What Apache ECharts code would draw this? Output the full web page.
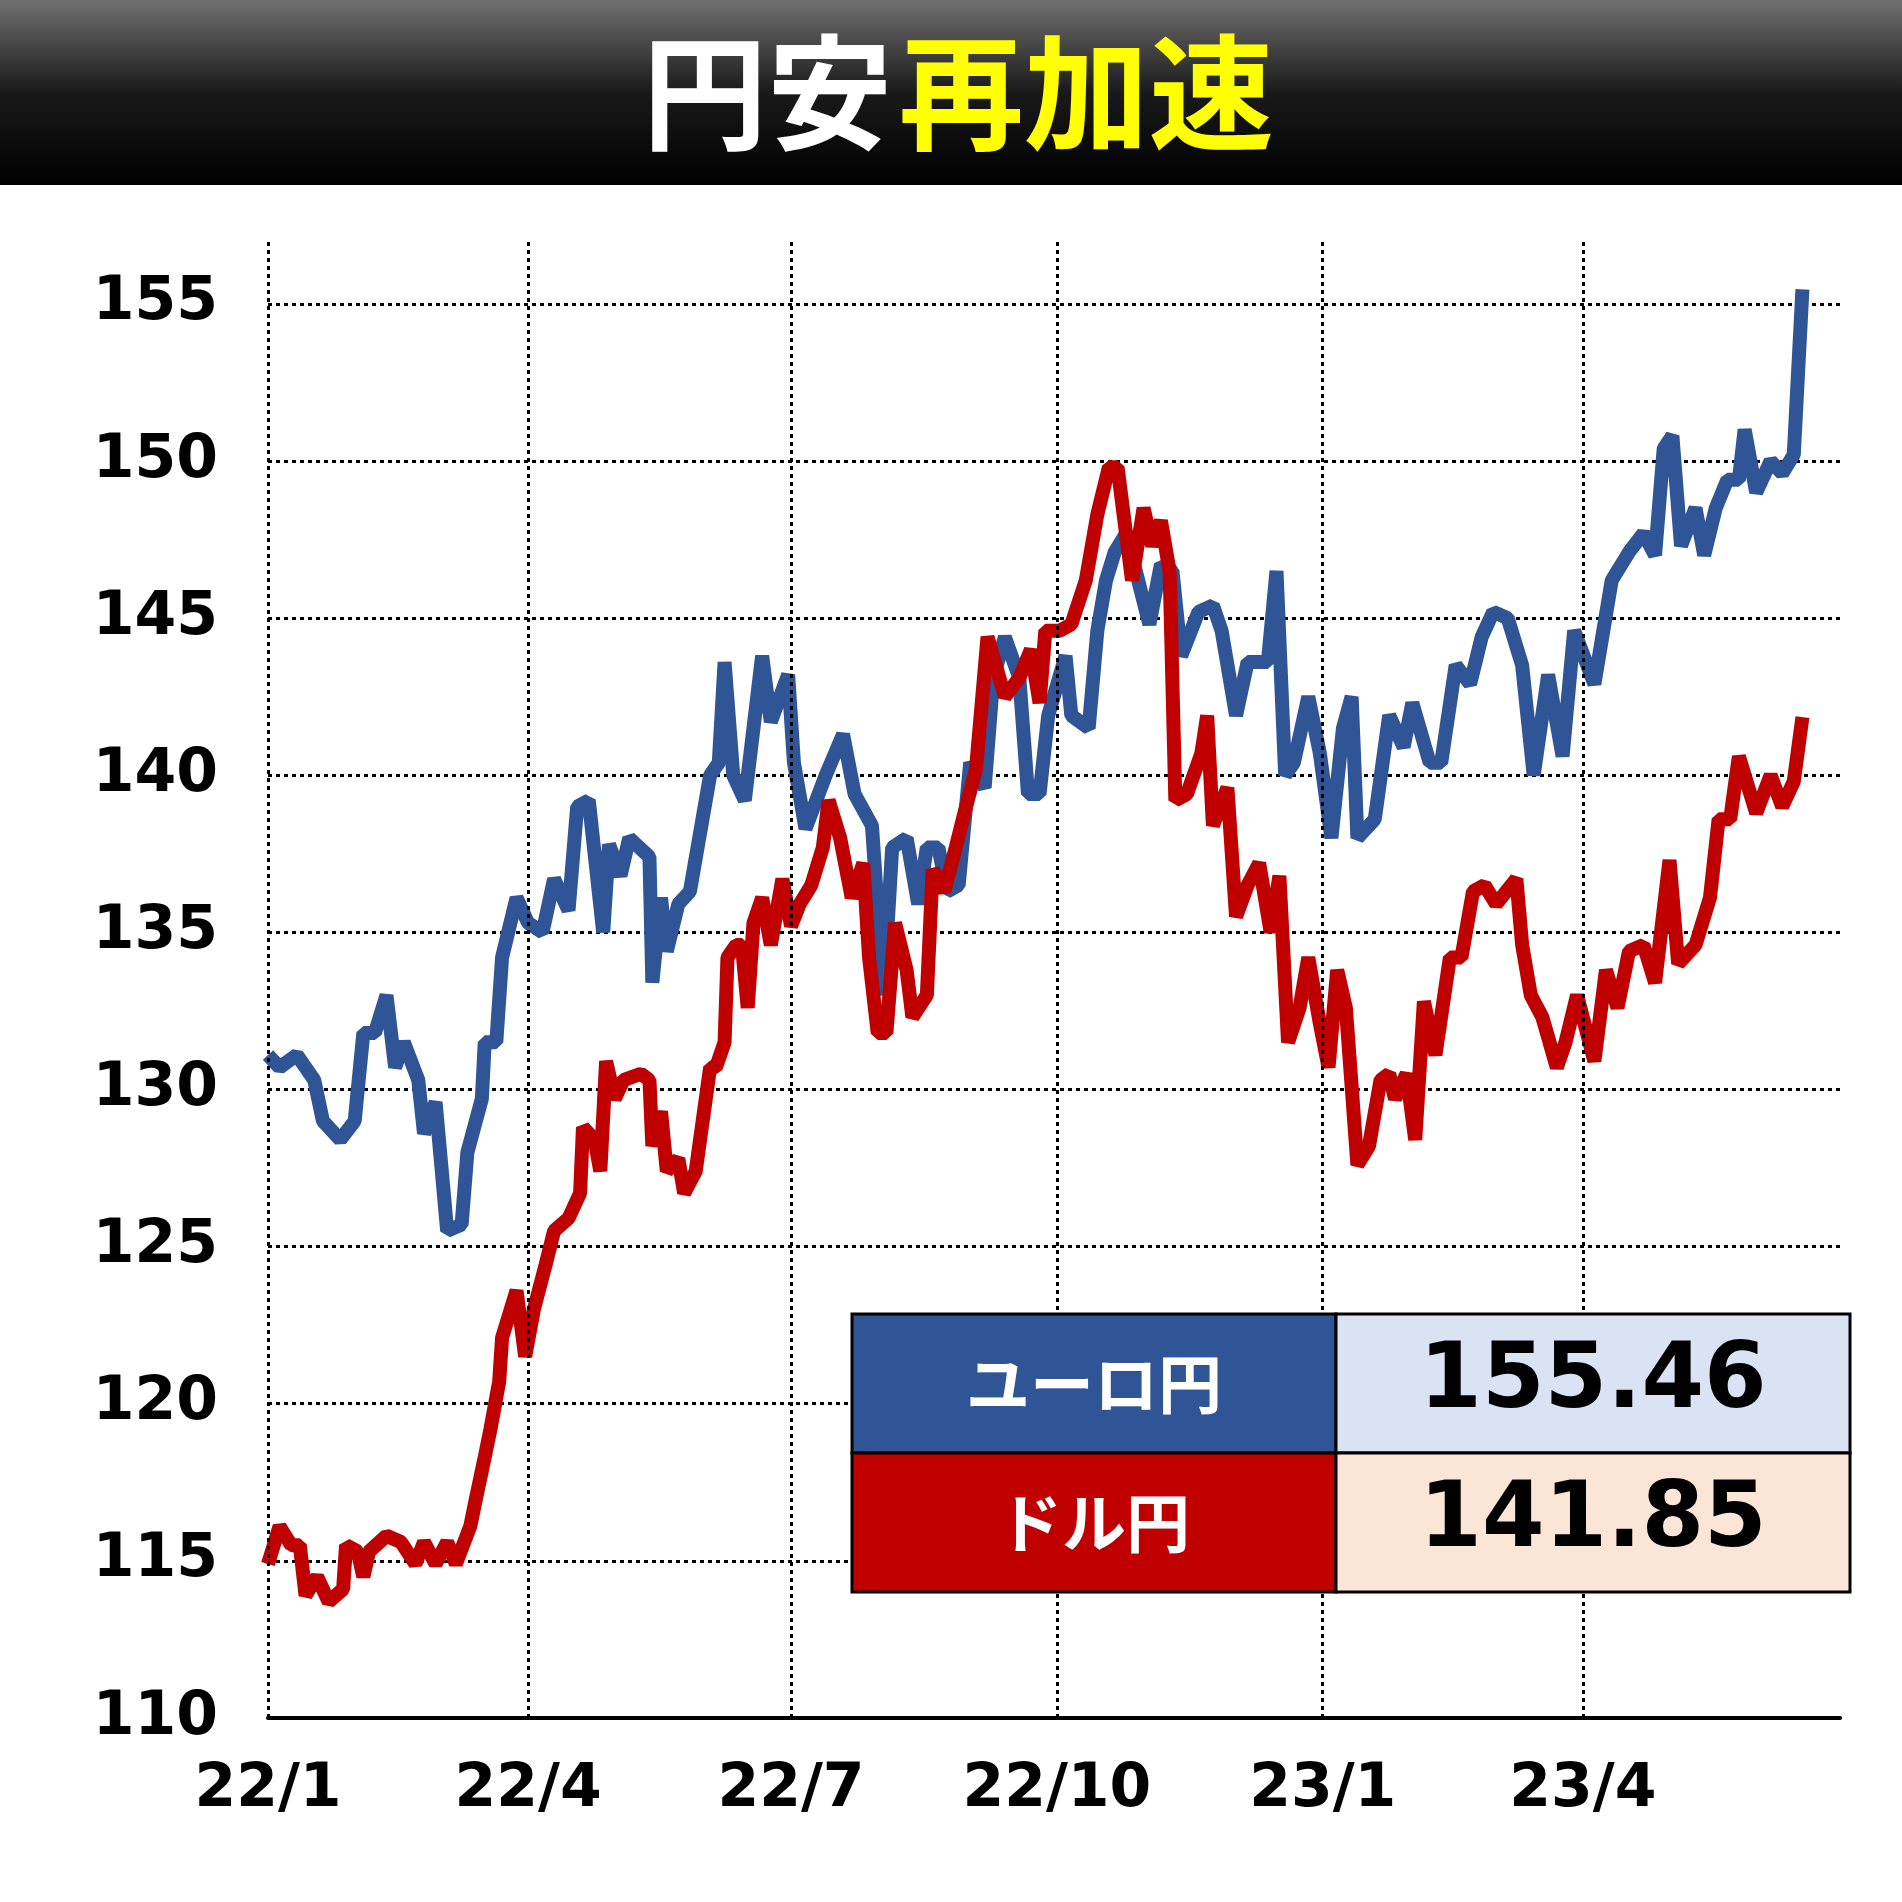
<!DOCTYPE html>
<html><head><meta charset="utf-8">
<script src="https://cdn.jsdelivr.net/npm/echarts@6/dist/echarts.min.js"></script>
<style>html,body{margin:0;padding:0;background:#fff}#main{width:1902px;height:1902px}</style>
</head><body><div id="main"></div>
<script>
// days since 2022-01-01
var eurDays = [0,4,10,16,19,25,30,33,37,41,44,47,52,54,58,62,67,69,74,75,79,81,86,90,95,99,104,107,111,116,118,122,125,132,133,136,138,142,146,153,156,158,161,165,171,174,180,182,186,193,199,203,209,213,216,221,225,228,232,235,239,243,248,251,255,260,263,267,270,276,278,284,287,290,293,297,305,309,313,316,322,327,330,335,339,346,349,352,355,360,364,368,372,375,377,383,388,393,396,402,406,411,416,420,424,429,434,438,443,448,452,459,465,471,476,480,483,486,489,494,497,501,505,509,511,515,520,524,528,531];
var eurVals = [131.1,130.7,131.1,130.3,129,128.4,129,131.8,131.8,133,130.7,131.5,130.3,128.6,129.6,125.5,125.7,128,129.7,131.5,131.5,134.2,136.1,135.3,135,136.7,135.7,139,139.2,135,137.8,136.8,138,137.4,133.4,136.1,134.4,135.9,136.3,140,140.4,143.6,140,139.2,143.8,141.7,143.2,140.4,138.3,140,141.3,139.4,138.4,133,137.7,138,135.9,137.7,137.7,136.3,136.5,140.4,139.6,143.1,144.4,143.1,139.4,139.4,141.9,143.8,141.9,141.5,144.6,146.2,147.1,147.7,144.8,146.7,146.5,143.8,145.2,145.4,144.6,141.9,143.6,143.6,146.5,140,140.4,142.5,140.7,138,141.5,142.5,138,138.6,141.9,140.9,142.3,140.4,140.4,143.5,142.9,144.4,145.2,145,143.5,140,143.2,140.6,144.6,142.9,146.2,147.1,147.7,147,150.4,150.8,147.3,148.5,147,148.5,149.4,149.4,151,149,150,149.6,150.2,155.46];
var usdDays = [0,4,8,11,13,17,21,26,27,31,33,35,41,46,51,54,58,62,65,70,72,75,77,80,81,86,89,92,96,99,104,108,109,113,115,117,120,123,129,132,133,136,138,142,144,148,153,155,158,159,162,164,166,168,171,174,178,181,184,188,192,194,198,202,206,208,211,214,217,221,223,228,230,234,238,241,245,249,255,260,264,267,269,274,278,283,287,291,294,299,303,306,309,312,314,318,323,325,327,332,335,339,343,347,350,353,357,360,364,367,370,373,377,381,385,388,390,394,397,400,404,409,413,417,421,425,432,434,437,441,446,449,453,459,463,467,471,476,480,485,488,494,499,502,506,509,515,520,524,528,531];
var usdVals = [114.9,116.1,115.5,115.5,113.9,114.5,113.7,114.1,115.5,115.3,114.5,115.3,115.8,115.6,114.9,115.6,114.9,115.6,114.9,116.1,117,118.3,119.2,120.7,122.1,123.6,121.5,123,124.4,125.5,125.9,126.7,128.8,128.4,127.4,130.9,129.7,130.3,130.5,130.3,128.2,129.3,127.4,127.8,126.7,127.4,130.7,130.7,131.5,134.2,134.6,134.6,132.6,135.3,136.1,134.6,136.7,135.2,135.9,136.5,137.7,139.2,138,136.1,137.2,134.2,131.8,131.8,135.3,133.8,132.3,133,137,136.3,137.7,138.8,140.2,144.4,142.5,143.1,144,142.3,144.6,144.6,144.8,146.2,148.3,149.8,149.8,146.2,148.5,147.3,148.1,146.5,139.2,139.4,140.7,141.9,138.4,139.6,135.5,136.5,137.2,135,136.8,131.5,132.6,134.2,132.1,130.7,133.8,132.6,127.6,128.2,130.3,130.5,129.7,130.5,128.4,132.8,131.1,134.2,134.2,136.3,136.5,135.9,136.7,134.6,133,132.3,130.7,131.5,133,130.9,133.8,132.6,134.4,134.6,133.4,137.3,134,134.6,136.1,138.6,138.6,140.6,138.8,140,139,139.8,141.85];
var quarterDays = [0,90,181,273,365,455];
var quarterLabels = ['22/1','22/4','22/7','22/10','23/1','23/4'];
var latest = [['ユーロ円','155.46'],['ドル円','141.85']];

function pairs(d, v) { return d.map(function(x, i) { return [x, v[i]]; }); }

var chart = echarts.init(document.getElementById('main'));
var lbl = {fontFamily:'DejaVu Sans', fontWeight:'bold', fontSize:60, color:'#000'};
var dotted = {color:'#000', type:[4,4], width:3};

var graphics = [
  {type:'rect', shape:{x:0,y:0,width:1902,height:185}, style:{fill:new echarts.graphic.LinearGradient(0,0,0,1,[{offset:0,color:'#707070'},{offset:0.5,color:'#1a1a1a'},{offset:1,color:'#000'}])}},
  {type:'text', x:958, y:92, style:{text:'{w|円安}  {y|再加速}', align:'center', verticalAlign:'middle',
    rich:{w:{fill:'#fff',fontSize:125,fontWeight:'bold',fontFamily:'Noto Sans CJK JP'},y:{fill:'#ffff00',fontSize:125,fontWeight:'bold',fontFamily:'Noto Sans CJK JP'}}}}
];
var tx0 = 852, tx1 = 1336, tx2 = 1850, ty = [1314, 1453, 1592];
var cellFill = [['#2f5597','#dae3f3'],['#c00000','#fbe5d6']];
latest.forEach(function(r, i) {
  graphics.push({type:'rect', z:100, shape:{x:tx0,y:ty[i],width:tx1-tx0,height:ty[i+1]-ty[i]}, style:{fill:cellFill[i][0],stroke:'#000',lineWidth:3}});
  graphics.push({type:'rect', z:100, shape:{x:tx1,y:ty[i],width:tx2-tx1,height:ty[i+1]-ty[i]}, style:{fill:cellFill[i][1],stroke:'#000',lineWidth:3}});
  graphics.push({type:'text', z:101, x:(tx0+tx1)/2, y:(ty[i]+ty[i+1])/2, style:{text:r[0],fill:'#fff',fontSize:64,fontWeight:'bold',fontFamily:'Noto Sans CJK JP',align:'center',verticalAlign:'middle'}});
  graphics.push({type:'text', z:101, x:(tx1+tx2)/2, y:(ty[i]+ty[i+1])/2, style:{text:r[1],fill:'#000',fontSize:90,fontWeight:'bold',fontFamily:'DejaVu Sans',align:'center',verticalAlign:'middle'}});
});

chart.setOption({
  animation:false,
  grid:{left:268, right:62, top:241, bottom:184},
  xAxis:{type:'value', min:0, max:544, axisLabel:{show:false}, axisTick:{show:false}, splitLine:{show:false},
    axisLine:{lineStyle:{color:'#000', width:4}}},
  yAxis:{type:'value', min:110, max:157, interval:5,
    axisLine:{show:false}, axisTick:{show:false},
    axisLabel:Object.assign({margin:50, formatter:function(v){return v%5===0?v:'';}}, lbl),
    splitLine:{lineStyle:dotted, showMaxLine:false}},
  graphic:graphics,
  series:[
    {type:'line', data:pairs(eurDays, eurVals), showSymbol:false, clip:false, lineStyle:{color:'#2f5597', width:14}, z:3,
     markLine:{silent:true, symbol:'none', lineStyle:dotted,
       label:Object.assign({position:'start', distance:42, formatter:function(p){return quarterLabels[quarterDays.indexOf(p.value)];}}, lbl),
       data:quarterDays.map(function(d){return {xAxis:d};})}},
    {type:'line', data:pairs(usdDays, usdVals), showSymbol:false, clip:false, lineStyle:{color:'#c00000', width:14}, z:4}
  ]
});
</script></body></html>
